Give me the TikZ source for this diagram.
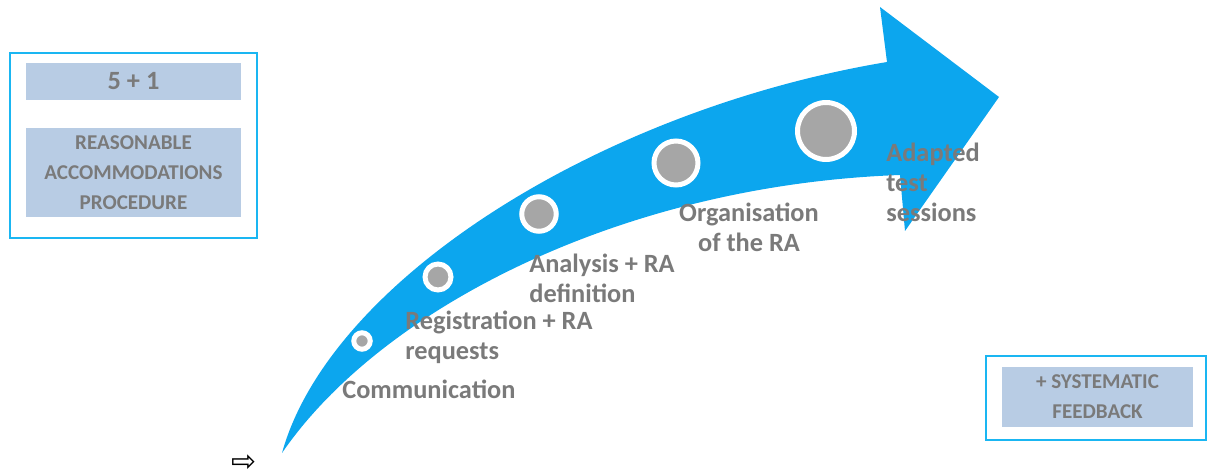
\documentclass[tikz,border=0pt]{standalone}
\usepackage{fontspec}
\setmainfont{Carlito}
\newfontfamily\symfont{DejaVu Sans}
\begin{document}
\begin{tikzpicture}[x=0.02cm,y=-0.02cm]
\definecolor{flow}{RGB}{12,166,238}
\definecolor{frame}{RGB}{26,182,242}
\definecolor{panel}{RGB}{184,204,228}
\definecolor{ink}{RGB}{122,122,122}
\definecolor{dot}{RGB}{166,166,166}
\tikzset{
  frameBox/.style={draw=frame, line width=1.4pt, fill=white, inner sep=0pt},
  panelBox/.style={fill=panel, inner sep=0pt, align=center, text=ink,
    font=\bfseries\fontsize{12}{17}\selectfont},
  milestone/.style={circle, fill=dot, draw=white, line width=0.1cm, inner sep=0pt},
  stepLabel/.style={text=ink, inner sep=0pt, font=\bfseries\fontsize{15}{17}\selectfont}
}
\useasboundingbox (0,0) rectangle (1208,476);

% the curved process arrow
\fill[flow] (282,453) .. controls (330,280) and (600,110) .. (887,62)
  -- (880,7) -- (999,97) -- (905,231) -- (900,175)
  .. controls (620,185) and (380,310) .. (282,453) -- cycle;

% milestones along the arrow
\node[milestone, minimum size=0.33cm] (m1) at (362,341) {};
\node[milestone, minimum size=0.52cm] (m2) at (438,277) {};
\node[milestone, minimum size=0.69cm] (m3) at (539,214) {};
\node[milestone, minimum size=0.88cm] (m4) at (676,163) {};
\node[milestone, minimum size=1.14cm] (m5) at (826,131) {};

% step labels
\node[stepLabel, anchor=west] (s1) at (342,389) {Communication};
\node[stepLabel, anchor=west, align=left] (s2) at (405,337) {Registration + RA\\requests};
\node[stepLabel, anchor=west, align=left] (s3) at (529,278) {Analysis + RA\\definition};
\node[stepLabel, align=center] (s4) at (749,227) {Organisation\\of the RA};
\node[stepLabel, anchor=west, align=left] (s5) at (886,182) {Adapted\\test\\sessions};

% title panel
\node[frameBox, minimum width=4.94cm, minimum height=3.7cm] (title) at (133.5,145.5) {};
\node[panelBox, minimum width=4.3cm, minimum height=0.74cm,
      font=\bfseries\fontsize{15}{17}\selectfont] (count) at (133.5,81.5) {5 + 1};
\node[panelBox, minimum width=4.3cm, minimum height=1.78cm] (proc) at (133.5,172.5)
  {REASONABLE\\ACCOMMODATIONS\\PROCEDURE};

% feedback panel
\node[frameBox, minimum width=4.4cm, minimum height=1.68cm] (fbframe) at (1096,398) {};
\node[panelBox, minimum width=3.82cm, minimum height=1.2cm] (feedback) at (1097.5,397)
  {+ SYSTEMATIC\\FEEDBACK};

% bullet arrow
\node[inner sep=0pt, font=\symfont\fontsize{17}{17}\selectfont] (bullet) at (244,463) {⇨};
\end{tikzpicture}
\end{document}
